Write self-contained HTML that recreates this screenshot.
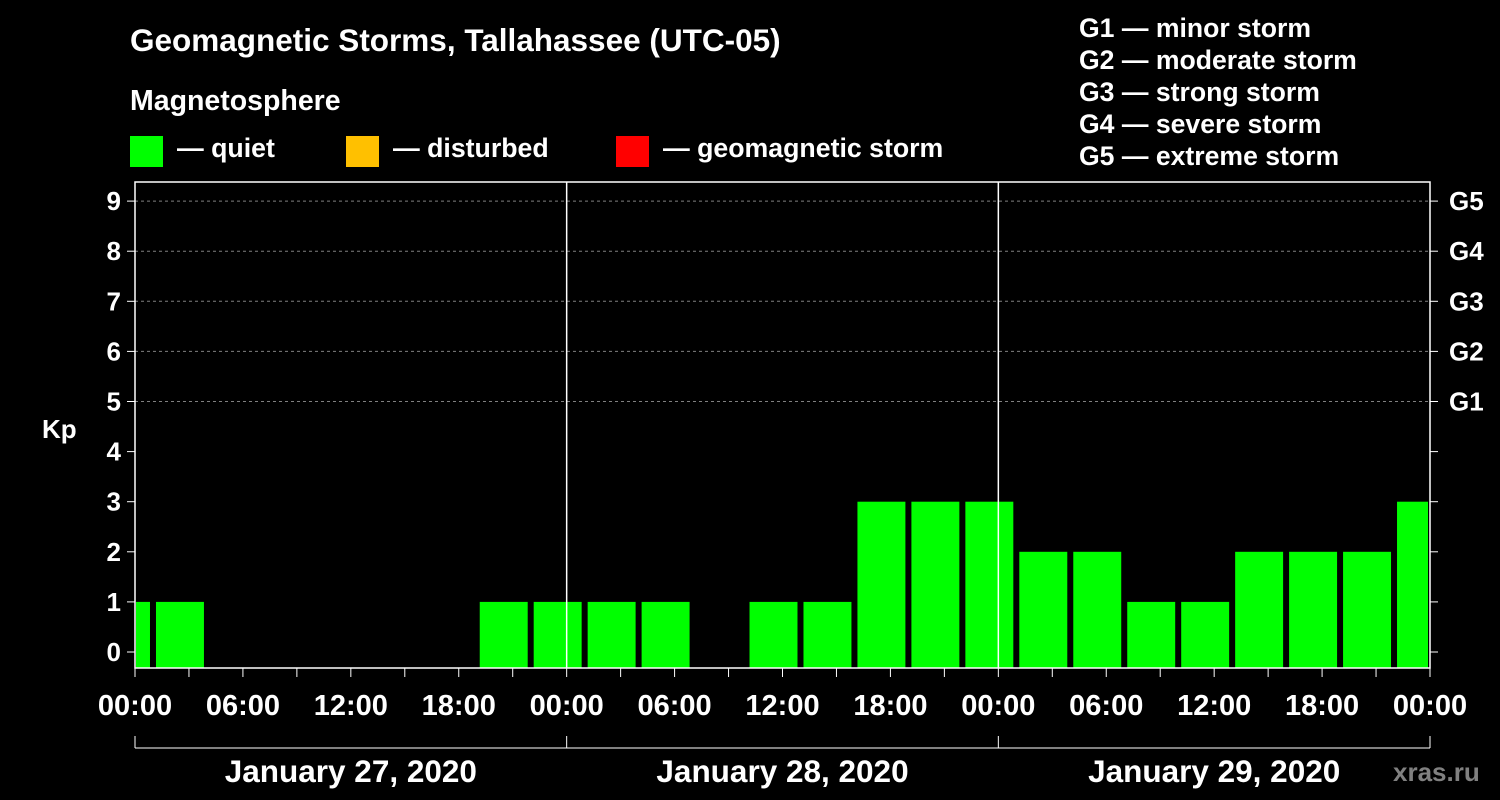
<!DOCTYPE html>
<html><head><meta charset="utf-8"><style>
html,body{margin:0;padding:0;background:#000;width:1500px;height:800px;overflow:hidden}
svg text{font-family:"Liberation Sans",Arial,sans-serif;font-weight:bold;fill:#fff}
</style></head><body>
<svg id="chart" width="1500" height="800" xmlns="http://www.w3.org/2000/svg">
<text x="130" y="51" font-size="31.5">Geomagnetic Storms, Tallahassee (UTC-05)</text>
<text x="130" y="110" font-size="28.5">Magnetosphere</text>
<g>
<rect x="130" y="136" width="33" height="31" fill="#00ff00"/>
<text x="177" y="157" font-size="26.7">— quiet</text>
<rect x="346" y="136" width="33" height="31" fill="#ffc000"/>
<text x="393" y="157" font-size="26.7">— disturbed</text>
<rect x="616" y="136" width="33" height="31" fill="#ff0000"/>
<text x="663" y="157" font-size="26.7">— geomagnetic storm</text>
</g>
<g font-size="26.6">
<text x="1079" y="37">G1 — minor storm</text>
<text x="1079" y="69">G2 — moderate storm</text>
<text x="1079" y="101">G3 — strong storm</text>
<text x="1079" y="133">G4 — severe storm</text>
<text x="1079" y="165">G5 — extreme storm</text>
</g>
<text x="42" y="438" font-size="26">Kp</text>
<g id="grid"></g><g id="bars"></g><g id="axes"></g>
<text x="1393" y="781" font-size="26" style="fill:#808080">xras.ru</text>
</svg>
<script>
const startHours=[-2,1,4,7,10,13,16,19,22,25,28,31,34,37,40,43,46,49,52,55,58,61,64,67,70];
const kpValues=[1,1,0,0,0,0,0,1,1,1,1,0,1,1,3,3,3,2,2,1,1,2,2,2,3];
const yTicks=[0,1,2,3,4,5,6,7,8,9];
const gLabels=["G1","G2","G3","G4","G5"];
const xTickLabels=["00:00","06:00","12:00","18:00","00:00","06:00","12:00","18:00","00:00","06:00","12:00","18:00","00:00"];
const dayLabels=["January 27, 2020","January 28, 2020","January 29, 2020"];
const NS="http://www.w3.org/2000/svg";
const X0=135,X1=1430,TOP=182,BOT=668;
const xs=h=>X0+h*(X1-X0)/72;
const ys=k=>652-k*50.1;
function mk(p,t,a){const e=document.createElementNS(NS,t);for(const k in a)e.setAttribute(k,a[k]);p.appendChild(e);return e;}
const grid=document.getElementById('grid'),bars=document.getElementById('bars'),axes=document.getElementById('axes');
yTicks.forEach(k=>{if(k>=5){const l=mk(grid,'line',{x1:X0,x2:X1,y1:ys(k),y2:ys(k),stroke:'#808080','stroke-dasharray':'3,3'});

}});
startHours.forEach((h,i)=>{const v=kpValues[i];if(v<=0)return;
let a=Math.max(xs(h)+3,X0+1),b=Math.min(xs(h+3)-3,X1-2);
const c=v>=5?'#ff0000':(v>=4?'#ffc000':'#00ff00');
const r=mk(bars,'rect',{x:a,y:ys(v),width:b-a,height:BOT-ys(v),fill:c});

});
mk(axes,'rect',{x:X0,y:TOP,width:X1-X0,height:BOT-TOP,fill:'none',stroke:'#fff','stroke-width':1.5});
[24,48].forEach(h=>mk(axes,'line',{x1:xs(h),x2:xs(h),y1:TOP,y2:BOT,stroke:'#fff','stroke-width':1.5}));
yTicks.forEach(k=>{mk(axes,'line',{x1:X0-8,x2:X0,y1:ys(k),y2:ys(k),stroke:'#fff'});
mk(axes,'line',{x1:X1,x2:X1+8,y1:ys(k),y2:ys(k),stroke:'#fff'});
const t=mk(axes,'text',{x:X0-14,y:ys(k)+9,'font-size':26,'text-anchor':'end'});t.textContent=k;

});
gLabels.forEach((g,i)=>{const t=mk(axes,'text',{x:1449,y:ys(5+i)+9,'font-size':26});t.textContent=g;

});
for(let h=0;h<=72;h+=3)mk(axes,'line',{x1:xs(h),x2:xs(h),y1:BOT,y2:BOT+9,stroke:'#fff'});
xTickLabels.forEach((s,i)=>{const t=mk(axes,'text',{x:xs(i*6),y:715,'font-size':29,'text-anchor':'middle'});t.textContent=s;

});
mk(axes,'line',{x1:X0,x2:X1,y1:748,y2:748,stroke:'#fff'});
[0,24,48,72].forEach(h=>mk(axes,'line',{x1:xs(h),x2:xs(h),y1:736,y2:748,stroke:'#fff'}));
dayLabels.forEach((s,i)=>{const t=mk(axes,'text',{x:xs(i*24+12),y:782,'font-size':31.5,'text-anchor':'middle'});t.textContent=s;

});
</script>
</body></html>
